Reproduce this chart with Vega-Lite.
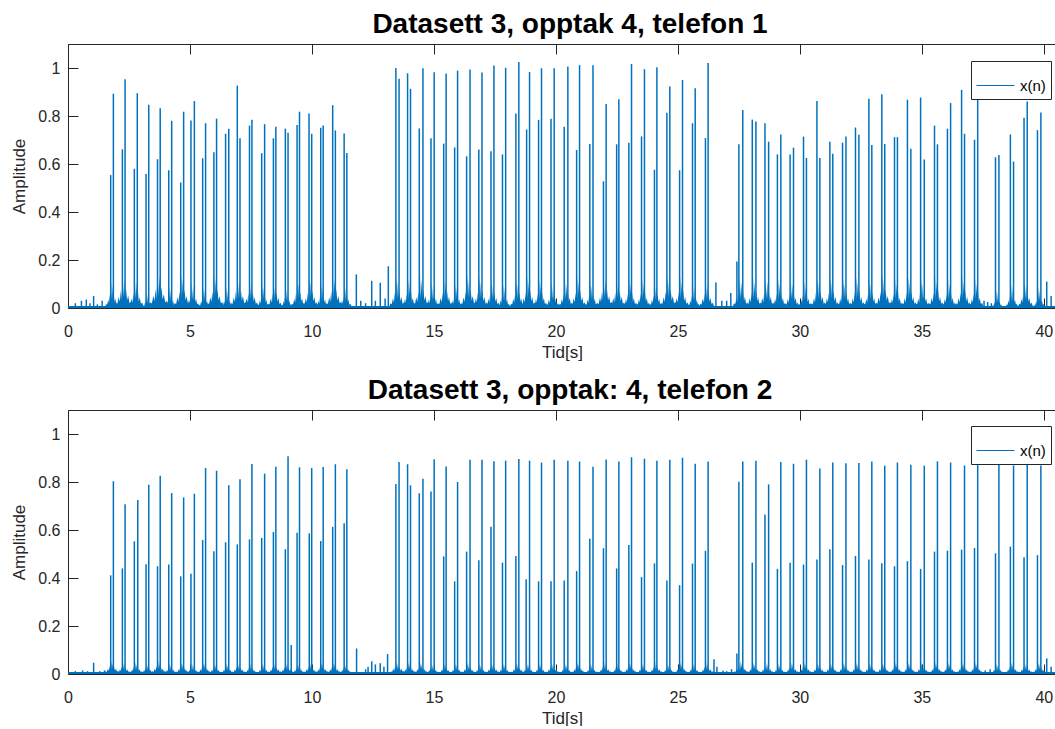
{
  "$schema": "https://vega.github.io/schema/vega-lite/v6.json",
  "padding": {"left": 10, "top": 10, "right": 0, "bottom": 0},
  "background": "white",
  "config": {
    "font": "Liberation Sans",
    "view": {"stroke": null},
    "axis": {
      "grid": false,
      "domainColor": "#262626",
      "tickColor": "#262626",
      "labelColor": "#262626",
      "titleColor": "#262626",
      "tickSize": -10,
      "labelFontSize": 16,
      "titleFontSize": 17,
      "titleFontWeight": "normal"
    },
    "axisX": {"labelPadding": 25, "titlePadding": 5},
    "axisY": {"labelPadding": 18, "titlePadding": 9},
    "title": {"fontSize": 28, "fontWeight": "bold", "color": "#000000", "offset": 5, "baseline": "alphabetic"},
    "concat": {"spacing": 16}
  },
  "resolve": {"scale": {"color": "independent", "size": "independent"}},
  "datasets": {
    "f": [{"t0": 0, "t1": 40.5, "a": 0.008}],
    "s1": [
      {"t": 0.3, "a": 0.02}, {"t": 0.55, "a": 0.03}, {"t": 0.75, "a": 0.035}, {"t": 0.9, "a": 0.02}, {"t": 1.05, "a": 0.05}, {"t": 1.2, "a": 0.015}, {"t": 1.4, "a": 0.03},
      {"t": 1.75, "a": 0.554}, {"t": 1.86, "a": 0.893},
      {"t": 2.23, "a": 0.661}, {"t": 2.34, "a": 0.953},
      {"t": 2.72, "a": 0.58}, {"t": 2.84, "a": 0.895},
      {"t": 3.2, "a": 0.558}, {"t": 3.31, "a": 0.847},
      {"t": 3.67, "a": 0.62}, {"t": 3.78, "a": 0.832},
      {"t": 4.13, "a": 0.574}, {"t": 4.25, "a": 0.78},
      {"t": 4.62, "a": 0.523}, {"t": 4.74, "a": 0.818},
      {"t": 5.04, "a": 0.781}, {"t": 5.18, "a": 0.862},
      {"t": 5.52, "a": 0.624}, {"t": 5.64, "a": 0.77},
      {"t": 5.98, "a": 0.649}, {"t": 6.09, "a": 0.789},
      {"t": 6.46, "a": 0.726}, {"t": 6.59, "a": 0.747},
      {"t": 6.94, "a": 0.927}, {"t": 7.05, "a": 0.707},
      {"t": 7.44, "a": 0.76}, {"t": 7.54, "a": 0.784},
      {"t": 7.94, "a": 0.645}, {"t": 8.06, "a": 0.766},
      {"t": 8.42, "a": 0.707}, {"t": 8.52, "a": 0.755},
      {"t": 8.91, "a": 0.747}, {"t": 9.02, "a": 0.73},
      {"t": 9.39, "a": 0.762}, {"t": 9.49, "a": 0.818},
      {"t": 9.88, "a": 0.81}, {"t": 9.99, "a": 0.726},
      {"t": 10.36, "a": 0.751}, {"t": 10.46, "a": 0.76},
      {"t": 10.85, "a": 0.845}, {"t": 10.96, "a": 0.74},
      {"t": 11.32, "a": 0.727}, {"t": 11.43, "a": 0.646},
      {"t": 11.82, "a": 0.14}, {"t": 12.0, "a": 0.03}, {"t": 12.2, "a": 0.02}, {"t": 12.45, "a": 0.113}, {"t": 12.6, "a": 0.03}, {"t": 12.8, "a": 0.105}, {"t": 13.0, "a": 0.04}, {"t": 13.13, "a": 0.174},
      {"t": 13.44, "a": 1.0}, {"t": 13.57, "a": 0.955},
      {"t": 13.92, "a": 0.978}, {"t": 14.04, "a": 0.913},
      {"t": 14.4, "a": 0.748}, {"t": 14.55, "a": 0.999},
      {"t": 14.88, "a": 0.707}, {"t": 15.01, "a": 0.982},
      {"t": 15.4, "a": 0.685}, {"t": 15.5, "a": 0.977},
      {"t": 15.85, "a": 0.669}, {"t": 15.97, "a": 0.989},
      {"t": 16.34, "a": 0.632}, {"t": 16.48, "a": 0.994},
      {"t": 16.84, "a": 0.66}, {"t": 16.97, "a": 0.981},
      {"t": 17.34, "a": 0.653}, {"t": 17.46, "a": 1.01},
      {"t": 17.81, "a": 0.64}, {"t": 17.94, "a": 1.001},
      {"t": 18.36, "a": 0.81}, {"t": 18.48, "a": 1.025},
      {"t": 18.8, "a": 0.744}, {"t": 18.92, "a": 0.983},
      {"t": 19.29, "a": 0.784}, {"t": 19.41, "a": 0.999},
      {"t": 19.8, "a": 0.789}, {"t": 19.93, "a": 0.999},
      {"t": 20.34, "a": 0.755}, {"t": 20.49, "a": 1.006},
      {"t": 20.85, "a": 0.658}, {"t": 20.97, "a": 1.012},
      {"t": 21.39, "a": 0.683}, {"t": 21.52, "a": 1.011},
      {"t": 21.95, "a": 0.528}, {"t": 22.06, "a": 0.85},
      {"t": 22.49, "a": 0.682}, {"t": 22.58, "a": 0.87},
      {"t": 22.99, "a": 0.689}, {"t": 23.1, "a": 1.017},
      {"t": 23.51, "a": 0.715}, {"t": 23.63, "a": 0.995},
      {"t": 24.04, "a": 0.576}, {"t": 24.14, "a": 1.003},
      {"t": 24.55, "a": 0.814}, {"t": 24.67, "a": 0.923},
      {"t": 25.07, "a": 0.574}, {"t": 25.19, "a": 0.95},
      {"t": 25.6, "a": 0.77}, {"t": 25.71, "a": 0.916},
      {"t": 26.13, "a": 0.708}, {"t": 26.24, "a": 1.021},
      {"t": 26.56, "a": 0.106}, {"t": 26.8, "a": 0.03}, {"t": 27.0, "a": 0.03}, {"t": 27.17, "a": 0.062}, {"t": 27.42, "a": 0.194},
      {"t": 27.5, "a": 0.682}, {"t": 27.66, "a": 0.825},
      {"t": 28.05, "a": 0.785}, {"t": 28.2, "a": 0.777},
      {"t": 28.57, "a": 0.77}, {"t": 28.72, "a": 0.693},
      {"t": 29.08, "a": 0.64}, {"t": 29.22, "a": 0.723},
      {"t": 29.6, "a": 0.64}, {"t": 29.74, "a": 0.668},
      {"t": 30.15, "a": 0.714}, {"t": 30.27, "a": 0.625},
      {"t": 30.7, "a": 0.862}, {"t": 30.82, "a": 0.625},
      {"t": 31.23, "a": 0.693}, {"t": 31.35, "a": 0.643},
      {"t": 31.75, "a": 0.689}, {"t": 31.89, "a": 0.715},
      {"t": 32.28, "a": 0.752}, {"t": 32.42, "a": 0.722},
      {"t": 32.83, "a": 0.872}, {"t": 32.95, "a": 0.679},
      {"t": 33.36, "a": 0.891}, {"t": 33.48, "a": 0.683},
      {"t": 33.88, "a": 0.712}, {"t": 34.0, "a": 0.712},
      {"t": 34.41, "a": 0.868}, {"t": 34.55, "a": 0.664},
      {"t": 34.95, "a": 0.877}, {"t": 35.1, "a": 0.619},
      {"t": 35.52, "a": 0.76}, {"t": 35.64, "a": 0.682},
      {"t": 36.05, "a": 0.747}, {"t": 36.18, "a": 0.854},
      {"t": 36.63, "a": 0.909}, {"t": 36.75, "a": 0.726},
      {"t": 37.16, "a": 0.701}, {"t": 37.29, "a": 0.899},
      {"t": 37.55, "a": 0.03}, {"t": 37.7, "a": 0.025}, {"t": 37.85, "a": 0.02},
      {"t": 38.02, "a": 0.628}, {"t": 38.16, "a": 0.638},
      {"t": 38.63, "a": 0.723}, {"t": 38.76, "a": 0.61},
      {"t": 39.19, "a": 0.793}, {"t": 39.32, "a": 0.86},
      {"t": 39.74, "a": 0.741}, {"t": 39.88, "a": 0.815},
      {"t": 40.12, "a": 0.11}, {"t": 40.3, "a": 0.05}
    ],
    "c1": [
      {"t": 1.8, "n": 0.11}, {"t": 2.28, "n": 0.145}, {"t": 2.78, "n": 0.125}, {"t": 3.25, "n": 0.07}, {"t": 3.72, "n": 0.16},
      {"t": 4.19, "n": 0.09}, {"t": 4.68, "n": 0.14}, {"t": 5.11, "n": 0.11}, {"t": 5.58, "n": 0.09}, {"t": 6.03, "n": 0.14},
      {"t": 6.52, "n": 0.09}, {"t": 6.99, "n": 0.14}, {"t": 7.49, "n": 0.125}, {"t": 8.0, "n": 0.1}, {"t": 8.47, "n": 0.12},
      {"t": 8.96, "n": 0.09}, {"t": 9.44, "n": 0.12}, {"t": 9.93, "n": 0.13}, {"t": 10.41, "n": 0.1}, {"t": 10.9, "n": 0.14},
      {"t": 11.37, "n": 0.1}, {"t": 13.5, "n": 0.13}, {"t": 13.98, "n": 0.12}, {"t": 14.47, "n": 0.14}, {"t": 14.94, "n": 0.11},
      {"t": 15.45, "n": 0.13}, {"t": 15.91, "n": 0.1}, {"t": 16.41, "n": 0.14}, {"t": 16.9, "n": 0.13}, {"t": 17.4, "n": 0.12},
      {"t": 17.87, "n": 0.1}, {"t": 18.42, "n": 0.12}, {"t": 18.86, "n": 0.13}, {"t": 19.35, "n": 0.12}, {"t": 19.86, "n": 0.11},
      {"t": 20.41, "n": 0.12}, {"t": 20.91, "n": 0.13}, {"t": 21.45, "n": 0.11}, {"t": 22.0, "n": 0.14}, {"t": 22.53, "n": 0.13},
      {"t": 23.04, "n": 0.12}, {"t": 23.57, "n": 0.12}, {"t": 24.09, "n": 0.11}, {"t": 24.61, "n": 0.14}, {"t": 25.13, "n": 0.13},
      {"t": 25.65, "n": 0.1}, {"t": 26.18, "n": 0.12}, {"t": 27.58, "n": 0.13}, {"t": 28.12, "n": 0.13}, {"t": 28.64, "n": 0.13},
      {"t": 29.15, "n": 0.12}, {"t": 29.67, "n": 0.12}, {"t": 30.21, "n": 0.11}, {"t": 30.76, "n": 0.13}, {"t": 31.29, "n": 0.13},
      {"t": 31.82, "n": 0.12}, {"t": 32.35, "n": 0.13}, {"t": 32.89, "n": 0.12}, {"t": 33.42, "n": 0.14}, {"t": 33.94, "n": 0.12},
      {"t": 34.48, "n": 0.13}, {"t": 35.02, "n": 0.12}, {"t": 35.58, "n": 0.13}, {"t": 36.11, "n": 0.12}, {"t": 36.69, "n": 0.13},
      {"t": 37.22, "n": 0.12}, {"t": 38.09, "n": 0.08}, {"t": 38.69, "n": 0.1}, {"t": 39.25, "n": 0.12}, {"t": 39.81, "n": 0.09}
    ],
    "s2": [
      {"t": 0.3, "a": 0.012}, {"t": 0.6, "a": 0.015}, {"t": 0.8, "a": 0.012}, {"t": 1.05, "a": 0.047}, {"t": 1.3, "a": 0.012}, {"t": 1.5, "a": 0.015},
      {"t": 1.75, "a": 0.411}, {"t": 1.86, "a": 0.803},
      {"t": 2.23, "a": 0.44}, {"t": 2.34, "a": 0.707},
      {"t": 2.72, "a": 0.553}, {"t": 2.86, "a": 0.725},
      {"t": 3.2, "a": 0.457}, {"t": 3.31, "a": 0.789},
      {"t": 3.67, "a": 0.449}, {"t": 3.78, "a": 0.826},
      {"t": 4.13, "a": 0.456}, {"t": 4.25, "a": 0.754},
      {"t": 4.62, "a": 0.407}, {"t": 4.74, "a": 0.736},
      {"t": 5.04, "a": 0.418}, {"t": 5.18, "a": 0.751},
      {"t": 5.52, "a": 0.558}, {"t": 5.64, "a": 0.858},
      {"t": 5.98, "a": 0.511}, {"t": 6.09, "a": 0.847},
      {"t": 6.46, "a": 0.549}, {"t": 6.59, "a": 0.786},
      {"t": 6.94, "a": 0.54}, {"t": 7.05, "a": 0.811},
      {"t": 7.44, "a": 0.561}, {"t": 7.54, "a": 0.875},
      {"t": 7.94, "a": 0.567}, {"t": 8.06, "a": 0.835},
      {"t": 8.42, "a": 0.592}, {"t": 8.52, "a": 0.864},
      {"t": 8.91, "a": 0.52}, {"t": 9.02, "a": 0.907},
      {"t": 9.15, "a": 0.121},
      {"t": 9.39, "a": 0.589}, {"t": 9.49, "a": 0.861},
      {"t": 9.89, "a": 0.586}, {"t": 9.99, "a": 0.858},
      {"t": 10.36, "a": 0.554}, {"t": 10.46, "a": 0.863},
      {"t": 10.85, "a": 0.613}, {"t": 10.96, "a": 0.874},
      {"t": 11.32, "a": 0.628}, {"t": 11.43, "a": 0.853},
      {"t": 11.83, "a": 0.106}, {"t": 12.2, "a": 0.02}, {"t": 12.3, "a": 0.03}, {"t": 12.45, "a": 0.053}, {"t": 12.6, "a": 0.04}, {"t": 12.8, "a": 0.045}, {"t": 12.95, "a": 0.03}, {"t": 13.1, "a": 0.083},
      {"t": 13.44, "a": 0.792}, {"t": 13.57, "a": 0.883},
      {"t": 13.92, "a": 0.874}, {"t": 14.04, "a": 0.786},
      {"t": 14.4, "a": 0.753}, {"t": 14.55, "a": 0.814},
      {"t": 14.88, "a": 0.76}, {"t": 15.01, "a": 0.895},
      {"t": 15.4, "a": 0.49}, {"t": 15.5, "a": 0.865},
      {"t": 15.85, "a": 0.386}, {"t": 15.97, "a": 0.8},
      {"t": 16.34, "a": 0.51}, {"t": 16.48, "a": 0.893},
      {"t": 16.84, "a": 0.474}, {"t": 16.97, "a": 0.893},
      {"t": 17.34, "a": 0.614}, {"t": 17.46, "a": 0.886},
      {"t": 17.81, "a": 0.464}, {"t": 17.94, "a": 0.889},
      {"t": 18.36, "a": 0.492}, {"t": 18.48, "a": 0.896},
      {"t": 18.78, "a": 0.395}, {"t": 18.92, "a": 0.889},
      {"t": 19.29, "a": 0.386}, {"t": 19.41, "a": 0.881},
      {"t": 19.8, "a": 0.386}, {"t": 19.93, "a": 0.893},
      {"t": 20.34, "a": 0.39}, {"t": 20.49, "a": 0.889},
      {"t": 20.85, "a": 0.429}, {"t": 20.97, "a": 0.885},
      {"t": 21.39, "a": 0.564}, {"t": 21.52, "a": 0.864},
      {"t": 21.95, "a": 0.524}, {"t": 22.06, "a": 0.894},
      {"t": 22.49, "a": 0.44}, {"t": 22.58, "a": 0.885},
      {"t": 22.99, "a": 0.538}, {"t": 23.1, "a": 0.903},
      {"t": 23.51, "a": 0.404}, {"t": 23.63, "a": 0.897},
      {"t": 24.04, "a": 0.461}, {"t": 24.14, "a": 0.889},
      {"t": 24.55, "a": 0.39}, {"t": 24.67, "a": 0.893},
      {"t": 25.07, "a": 0.37}, {"t": 25.19, "a": 0.901},
      {"t": 25.6, "a": 0.46}, {"t": 25.71, "a": 0.876},
      {"t": 26.13, "a": 0.513}, {"t": 26.24, "a": 0.885},
      {"t": 26.48, "a": 0.061}, {"t": 26.6, "a": 0.03}, {"t": 26.85, "a": 0.015}, {"t": 27.0, "a": 0.012}, {"t": 27.2, "a": 0.02}, {"t": 27.42, "a": 0.085},
      {"t": 27.5, "a": 0.801}, {"t": 27.66, "a": 0.885},
      {"t": 28.05, "a": 0.464}, {"t": 28.2, "a": 0.889},
      {"t": 28.57, "a": 0.665}, {"t": 28.72, "a": 0.79},
      {"t": 29.08, "a": 0.438}, {"t": 29.22, "a": 0.883},
      {"t": 29.6, "a": 0.464}, {"t": 29.74, "a": 0.876},
      {"t": 30.15, "a": 0.456}, {"t": 30.27, "a": 0.893},
      {"t": 30.7, "a": 0.477}, {"t": 30.82, "a": 0.856},
      {"t": 31.23, "a": 0.52}, {"t": 31.35, "a": 0.881},
      {"t": 31.75, "a": 0.454}, {"t": 31.89, "a": 0.878},
      {"t": 32.28, "a": 0.492}, {"t": 32.42, "a": 0.879},
      {"t": 32.83, "a": 0.477}, {"t": 32.95, "a": 0.885},
      {"t": 33.36, "a": 0.461}, {"t": 33.48, "a": 0.868},
      {"t": 33.88, "a": 0.449}, {"t": 34.0, "a": 0.881},
      {"t": 34.41, "a": 0.47}, {"t": 34.55, "a": 0.872},
      {"t": 34.95, "a": 0.438}, {"t": 35.1, "a": 0.868},
      {"t": 35.52, "a": 0.51}, {"t": 35.64, "a": 0.886},
      {"t": 36.05, "a": 0.514}, {"t": 36.18, "a": 0.881},
      {"t": 36.63, "a": 0.518}, {"t": 36.75, "a": 0.869},
      {"t": 37.16, "a": 0.525}, {"t": 37.29, "a": 0.87},
      {"t": 37.6, "a": 0.015}, {"t": 37.8, "a": 0.02},
      {"t": 38.02, "a": 0.503}, {"t": 38.16, "a": 0.881},
      {"t": 38.63, "a": 0.531}, {"t": 38.76, "a": 0.869},
      {"t": 39.19, "a": 0.486}, {"t": 39.32, "a": 0.885},
      {"t": 39.74, "a": 0.495}, {"t": 39.88, "a": 0.869},
      {"t": 40.12, "a": 0.065}, {"t": 40.3, "a": 0.03}
    ],
    "c2": [
      {"t": 1.8, "n": 0.055}, {"t": 2.28, "n": 0.05}, {"t": 2.78, "n": 0.05}, {"t": 3.25, "n": 0.045}, {"t": 3.72, "n": 0.055},
      {"t": 4.19, "n": 0.045}, {"t": 4.68, "n": 0.05}, {"t": 5.11, "n": 0.045}, {"t": 5.58, "n": 0.05}, {"t": 6.03, "n": 0.045},
      {"t": 6.52, "n": 0.045}, {"t": 6.99, "n": 0.05}, {"t": 7.49, "n": 0.045}, {"t": 8.0, "n": 0.045}, {"t": 8.47, "n": 0.05},
      {"t": 8.96, "n": 0.05}, {"t": 9.44, "n": 0.045}, {"t": 9.93, "n": 0.05}, {"t": 10.41, "n": 0.05}, {"t": 10.9, "n": 0.05},
      {"t": 11.37, "n": 0.045}, {"t": 13.5, "n": 0.055}, {"t": 13.98, "n": 0.05}, {"t": 14.47, "n": 0.05}, {"t": 14.94, "n": 0.045},
      {"t": 15.45, "n": 0.045}, {"t": 15.91, "n": 0.045}, {"t": 16.41, "n": 0.05}, {"t": 16.9, "n": 0.045}, {"t": 17.4, "n": 0.05},
      {"t": 17.87, "n": 0.045}, {"t": 18.42, "n": 0.05}, {"t": 18.86, "n": 0.045}, {"t": 19.35, "n": 0.045}, {"t": 19.86, "n": 0.05},
      {"t": 20.41, "n": 0.045}, {"t": 20.91, "n": 0.05}, {"t": 21.45, "n": 0.045}, {"t": 22.0, "n": 0.05}, {"t": 22.53, "n": 0.045},
      {"t": 23.04, "n": 0.05}, {"t": 23.57, "n": 0.045}, {"t": 24.09, "n": 0.05}, {"t": 24.61, "n": 0.045}, {"t": 25.13, "n": 0.05},
      {"t": 25.65, "n": 0.045}, {"t": 26.18, "n": 0.05}, {"t": 27.58, "n": 0.055}, {"t": 28.12, "n": 0.05}, {"t": 28.64, "n": 0.05},
      {"t": 29.15, "n": 0.045}, {"t": 29.67, "n": 0.05}, {"t": 30.21, "n": 0.05}, {"t": 30.76, "n": 0.05}, {"t": 31.29, "n": 0.05},
      {"t": 31.82, "n": 0.05}, {"t": 32.35, "n": 0.05}, {"t": 32.89, "n": 0.05}, {"t": 33.42, "n": 0.05}, {"t": 33.94, "n": 0.05},
      {"t": 34.48, "n": 0.05}, {"t": 35.02, "n": 0.05}, {"t": 35.58, "n": 0.05}, {"t": 36.11, "n": 0.05}, {"t": 36.69, "n": 0.05},
      {"t": 37.22, "n": 0.05}, {"t": 38.09, "n": 0.045}, {"t": 38.69, "n": 0.05}, {"t": 39.25, "n": 0.05}, {"t": 39.81, "n": 0.05}
    ]
  },
  "vconcat": [
    {
      "width": 988,
      "height": 264,
      "title": {"text": "Datasett 3, opptak 4, telefon 1", "dx": 8},
      "resolve": {"axis": {"x": "independent"}},
      "layer": [
        {
          "data": {"name": "f"},
          "mark": {"type": "rect", "color": "#0072BD"},
          "encoding": {
            "x": {"field": "t0", "type": "quantitative", "scale": {"domain": [0, 40.5], "nice": false, "zero": false},
                  "axis": {"title": "Tid[s]", "values": [0, 5, 10, 15, 20, 25, 30, 35, 40], "format": "d", "labelFlush": false}},
            "x2": {"field": "t1"},
            "y": {"field": "a", "type": "quantitative", "scale": {"domain": [0, 1.1], "nice": false},
                  "axis": {"title": "Amplitude", "values": [0, 0.2, 0.4, 0.6, 0.8, 1], "format": "~g"}},
            "y2": {"datum": 0}
          }
        },
        {
          "data": {"name": "c1"},
          "mark": {"type": "point", "filled": true, "opacity": 1, "color": "#0072BD", "strokeWidth": 0,
                   "shape": "M-0.27,0 L-0.22,-0.15 L-0.18,-0.12 L-0.14,-0.32 L-0.11,-0.18 L-0.08,-0.5 L-0.06,-0.22 L-0.03,-1 L-0.01,-0.3 L0.02,-0.85 L0.04,-0.3 L0.07,-0.55 L0.1,-0.22 L0.13,-0.36 L0.17,-0.14 L0.21,-0.18 L0.28,0 Z"},
          "encoding": {
            "x": {"field": "t", "type": "quantitative", "axis": null},
            "y": {"datum": 0},
            "size": {"field": "n", "type": "quantitative", "scale": {"type": "pow", "exponent": 2, "domain": [0, 0.2], "range": [0, 9216]}, "legend": null}
          }
        },
        {
          "data": {"name": "s1"},
          "mark": {"type": "rule", "strokeWidth": 1.5},
          "encoding": {
            "x": {"field": "t", "type": "quantitative", "axis": null},
            "y": {"field": "a", "type": "quantitative"},
            "y2": {"datum": 0},
            "color": {"datum": "x(n)", "type": "nominal", "scale": {"range": ["#0072BD"]},
                      "legend": {"orient": "none", "legendX": 903, "legendY": 17, "title": null, "symbolType": "stroke", "symbolSize": 1444, "symbolStrokeWidth": 1, "symbolStrokeColor": "#0072BD", "labelFontSize": 15, "labelColor": "#000000", "strokeColor": "#262626", "fillColor": "white", "padding": 5, "labelOffset": 5}}
          }
        },
        {
          "data": {"name": "s1"},
          "mark": {"type": "rule", "opacity": 0},
          "encoding": {
            "x": {"field": "t", "type": "quantitative", "axis": {"orient": "top", "labels": false, "title": null, "values": [0, 5, 10, 15, 20, 25, 30, 35, 40]}}
          }
        }
      ]
    },
    {
      "width": 988,
      "height": 264,
      "title": {"text": "Datasett 3, opptak: 4, telefon 2", "dx": 8},
      "resolve": {"axis": {"x": "independent"}},
      "layer": [
        {
          "data": {"name": "f"},
          "mark": {"type": "rect", "color": "#0072BD"},
          "encoding": {
            "x": {"field": "t0", "type": "quantitative", "scale": {"domain": [0, 40.5], "nice": false, "zero": false},
                  "axis": {"title": "Tid[s]", "values": [0, 5, 10, 15, 20, 25, 30, 35, 40], "format": "d", "labelFlush": false}},
            "x2": {"field": "t1"},
            "y": {"field": "a", "type": "quantitative", "scale": {"domain": [0, 1.1], "nice": false},
                  "axis": {"title": "Amplitude", "values": [0, 0.2, 0.4, 0.6, 0.8, 1], "format": "~g"}},
            "y2": {"datum": 0}
          }
        },
        {
          "data": {"name": "c2"},
          "mark": {"type": "point", "filled": true, "opacity": 1, "color": "#0072BD", "strokeWidth": 0,
                   "shape": "M-0.6,0 L-0.48,-0.2 L-0.4,-0.15 L-0.3,-0.4 L-0.24,-0.22 L-0.16,-0.6 L-0.1,-0.25 L-0.05,-1 L0,-0.35 L0.05,-0.85 L0.1,-0.3 L0.16,-0.55 L0.24,-0.25 L0.3,-0.4 L0.4,-0.18 L0.48,-0.22 L0.62,0 Z"},
          "encoding": {
            "x": {"field": "t", "type": "quantitative", "axis": null},
            "y": {"datum": 0},
            "size": {"field": "n", "type": "quantitative", "scale": {"type": "pow", "exponent": 2, "domain": [0, 0.2], "range": [0, 9216]}, "legend": null}
          }
        },
        {
          "data": {"name": "s2"},
          "mark": {"type": "rule", "strokeWidth": 1.5},
          "encoding": {
            "x": {"field": "t", "type": "quantitative", "axis": null},
            "y": {"field": "a", "type": "quantitative"},
            "y2": {"datum": 0},
            "color": {"datum": "x(n)", "type": "nominal", "scale": {"range": ["#0072BD"]},
                      "legend": {"orient": "none", "legendX": 903, "legendY": 16, "title": null, "symbolType": "stroke", "symbolSize": 1444, "symbolStrokeWidth": 1, "symbolStrokeColor": "#0072BD", "labelFontSize": 15, "labelColor": "#000000", "strokeColor": "#262626", "fillColor": "white", "padding": 5, "labelOffset": 5}}
          }
        },
        {
          "data": {"name": "s2"},
          "mark": {"type": "rule", "opacity": 0},
          "encoding": {
            "x": {"field": "t", "type": "quantitative", "axis": {"orient": "top", "labels": false, "title": null, "values": [0, 5, 10, 15, 20, 25, 30, 35, 40]}}
          }
        }
      ]
    }
  ]
}
